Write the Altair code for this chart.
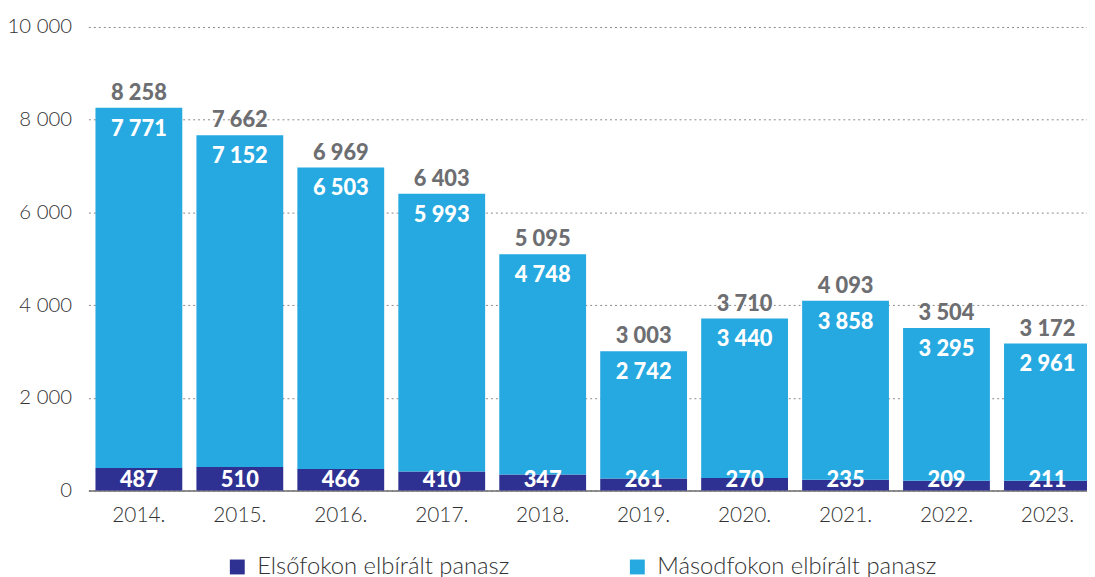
import altair as alt
import pandas as pd

years = ["2014.", "2015.", "2016.", "2017.", "2018.", "2019.", "2020.", "2021.", "2022.", "2023."]
first = [487, 510, 466, 410, 347, 261, 270, 235, 209, 211]
second = [7771, 7152, 6503, 5993, 4748, 2742, 3440, 3858, 3295, 2961]
total = [8258, 7662, 6969, 6403, 5095, 3003, 3710, 4093, 3504, 3172]
series = ["Elsőfokon elbírált panasz", "Másodfokon elbírált panasz"]
colors = ["#2E3192", "#25A9E0"]
y_ticks = [0, 2000, 4000, 6000, 8000, 10000]


def fmt(v):
    return f"{v:,}".replace(",", " ")


long_rows = []
for i, y in enumerate(years):
    long_rows.append({"year": y, "series": series[0], "value": first[i], "ord": 0})
    long_rows.append({"year": y, "series": series[1], "value": second[i], "ord": 1})
df_long = pd.DataFrame(long_rows)

df_wide = pd.DataFrame({
    "year": years,
    "first": first,
    "second": second,
    "total": total,
    "first_lbl": [fmt(v) for v in first],
    "second_lbl": [fmt(v) for v in second],
    "total_lbl": [fmt(v) for v in total],
})

LIGHT = "Lato"
BOLD = "Lato"

x_enc = alt.X(
    "year:N",
    sort=years,
    scale=alt.Scale(range=[0, 1017], paddingInner=0.14, paddingOuter=0.07),
    axis=alt.Axis(
        title=None, labelAngle=0, ticks=False, domain=True, domainColor="#6d6d6d",
        domainWidth=1.5, labelFont=LIGHT, labelFontWeight=300, labelFontSize=21,
        labelColor="#333333", labelPadding=14,
    ),
)

y_scale = alt.Scale(domain=[0, 10000], nice=False)

bars = alt.Chart(df_long).mark_bar().encode(
    x=x_enc,
    y=alt.Y(
        "value:Q",
        stack="zero",
        scale=y_scale,
        axis=alt.Axis(
            title=None, values=y_ticks, ticks=False, domain=False,
            labelExpr="replace(format(datum.value, ','), ',', ' ')",
            labelFont=LIGHT, labelFontWeight=300, labelFontSize=20.5,
            labelColor="#333333", labelPadding=17,
            grid=True, gridDash=[2, 3], gridColor="#8a8a8a", gridWidth=1,
        ),
    ),
    color=alt.Color(
        "series:N",
        scale=alt.Scale(domain=series, range=colors),
        legend=alt.Legend(
            title=None, orient="none", direction="horizontal",
            legendX=138, legendY=532, symbolType="square", symbolSize=225,
            symbolStrokeWidth=0, labelFont=LIGHT, labelFontWeight=300,
            labelFontSize=24, labelColor="#333333", labelOffset=8,
            labelLimit=0, columnPadding=116, padding=0, symbolOffset=0,
        ),
    ),
    order=alt.Order("ord:Q", sort="ascending"),
)

total_txt = alt.Chart(df_wide).mark_text(
    font=BOLD, fontWeight=900, fontSize=22, color="#6d6e71",
    baseline="alphabetic", dy=-8,
).encode(x=alt.X("year:N", sort=years), y=alt.Y("total:Q", scale=y_scale), text="total_lbl:N")

second_txt = alt.Chart(df_wide).mark_text(
    font=BOLD, fontWeight=900, fontSize=22, color="white",
    baseline="alphabetic", dy=28,
).encode(x=alt.X("year:N", sort=years), y=alt.Y("total:Q", scale=y_scale), text="second_lbl:N")

first_txt = alt.Chart(df_wide).mark_text(
    font=BOLD, fontWeight=900, fontSize=22, color="white",
    baseline="alphabetic", dy=-4,
).encode(x=alt.X("year:N", sort=years), y=alt.datum(0, scale=y_scale), text="first_lbl:N")

chart = alt.layer(bars, total_txt, second_txt, first_txt).properties(
    width=1006,
    height=467,
    autosize=alt.AutoSizeParams(type="none"),
    padding={"left": 81, "top": 17, "right": 0, "bottom": 88},
).configure_view(stroke=None)

chart.save("out.html", embed_options={"renderer": "svg", "actions": False})
